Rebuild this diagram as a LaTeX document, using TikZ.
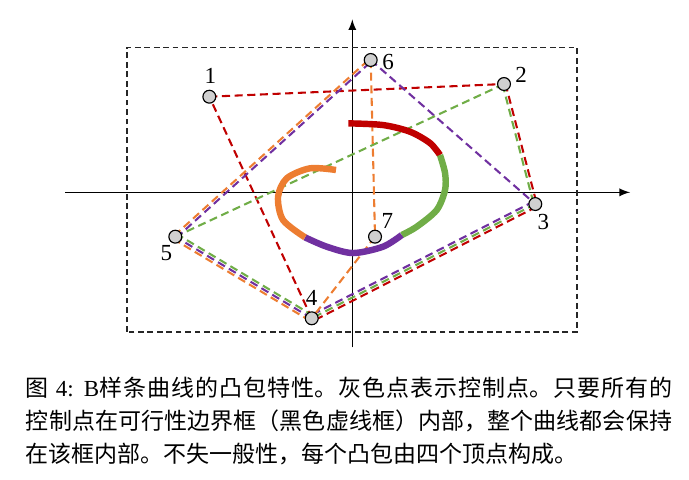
\documentclass[tikz,border=0pt]{standalone}
\usepackage{fontspec}
\setmainfont{Liberation Serif}
\newfontfamily\cjk{Noto Sans CJK SC}
\XeTeXlinebreaklocale "zh"
\XeTeXlinebreakskip=0pt plus 1pt
\usepackage{tikz}
\usetikzlibrary{arrows}
\usetikzlibrary{calc}
\usetikzlibrary{backgrounds}
\definecolor{hullred}{HTML}{C00000}
\definecolor{hullgreen}{HTML}{70AD47}
\definecolor{hullpurple}{HTML}{7030A0}
\definecolor{hullorange}{HTML}{ED7D31}
\definecolor{ctrlgray}{HTML}{D0D0D0}
\tikzset{
  ctrl/.style={circle,draw=black,fill=ctrlgray,line width=0.5pt,minimum size=5.6pt,inner sep=0pt,
    label distance=-2pt,font=\fontsize{11pt}{13pt}\selectfont},
  hull/.style={line width=0.9pt,dash pattern=on 3.5pt off 2pt},
  spline/.style={line width=2.8pt,line cap=butt},
  bbox/.style={black!85,line width=0.7pt,dash pattern=on 2.5pt off 1.6pt},
}
%% one dashed hull edge, shifted sideways so that shared edges stay apart
\newcommand{\hulledge}[4]{\draw[hull,#1] ($(#2)!#4!90:(#3)$) -- ($(#3)!#4!-90:(#2)$);}

\begin{document}
\begin{tikzpicture}[thick,scale=1]
  \useasboundingbox (-5.384,-4.396) rectangle (5.145,2.939);
  %% control points
  \foreach \n/\x/\y/\a/\dx/\dy in {1/-2.185/1.461/90/0.5/-1.2, 2/2.318/1.655/15/-1.7/-3.9,
      3/2.796/-0.179/-75/-3.5/2.2, 4/-0.620/-1.925/90/0/-1.3, 5/-2.705/-0.678/-112/3.5/2.6,
      6/0.281/2.022/0/-1.7/-0.7, 7/0.347/-0.678/65/-2.2/-3}
    \node[ctrl,label={[xshift=\dx pt,yshift=\dy pt]\a:\n}] (p\n) at (\x,\y) {};
  \begin{scope}[on background layer]
    \draw [black,line width=0.6pt,-latex] (-4.39,0) -- (4.244,0);
    \draw [black,line width=0.6pt,-latex] (0,-2.369) -- (0,2.644);
    \draw [bbox] (-3.443,-2.130) rectangle (3.434,2.216);
    %% convex hulls of the four segments
    \foreach \c/\a/\b/\d in {hullred/p1/p2/0pt, hullred/p2/p3/0.65pt, hullred/p3/p4/1.3pt, hullred/p4/p1/0pt,
        hullgreen/p2/p3/-0.65pt, hullgreen/p3/p4/0pt, hullgreen/p4/p5/-1.3pt, hullgreen/p5/p2/0pt,
        hullpurple/p3/p4/-1.3pt, hullpurple/p4/p5/0pt, hullpurple/p5/p6/-0.65pt, hullpurple/p6/p3/0pt,
        hullorange/p4/p5/1.3pt, hullorange/p5/p6/0.65pt, hullorange/p6/p7/0pt, hullorange/p7/p4/0pt}
      {\hulledge{\c}{\a}{\b}{\d}}
  \end{scope}
  %% the spline, one colour per segment
  \draw[spline,hullred] plot[smooth] coordinates {(-0.061,1.054) (0.469,1.028) (0.882,0.926) (1.187,0.753) (1.340,0.570)};
  \draw[spline,hullgreen] plot[smooth] coordinates {(1.340,0.570) (1.417,0.295) (1.417,0.035) (1.290,-0.270) (0.984,-0.526) (0.755,-0.653)};
  \draw[spline,hullpurple] plot[smooth] coordinates {(0.755,-0.653) (0.469,-0.831) (0.011,-0.928) (-0.391,-0.831) (-0.723,-0.688)};
  \draw[spline,hullorange] plot[smooth] coordinates {(-0.723,-0.688) (-1.059,-0.423) (-1.135,-0.067) (-1.002,0.214) (-0.646,0.367) (-0.249,0.341)};
  %% caption
  \node[anchor=north west,inner sep=0pt,text width=281pt,align=justify,
        font=\fontsize{10pt}{14.35pt}\selectfont] (caption) at (-5.002,-2.815)
    {\baselineskip=14.35pt
     {\cjk 图} 4: B{\cjk 样条曲线的凸包特性。灰色点表示控制点。只要所有的}\linebreak
     {\cjk 控制点在可行性边界框（黑色虚线框）内部，整个曲线都会保持}\linebreak
     {\cjk 在该框内部。不失一般性，每个凸包由四个顶点构成。}\par};
\end{tikzpicture}
\end{document}
